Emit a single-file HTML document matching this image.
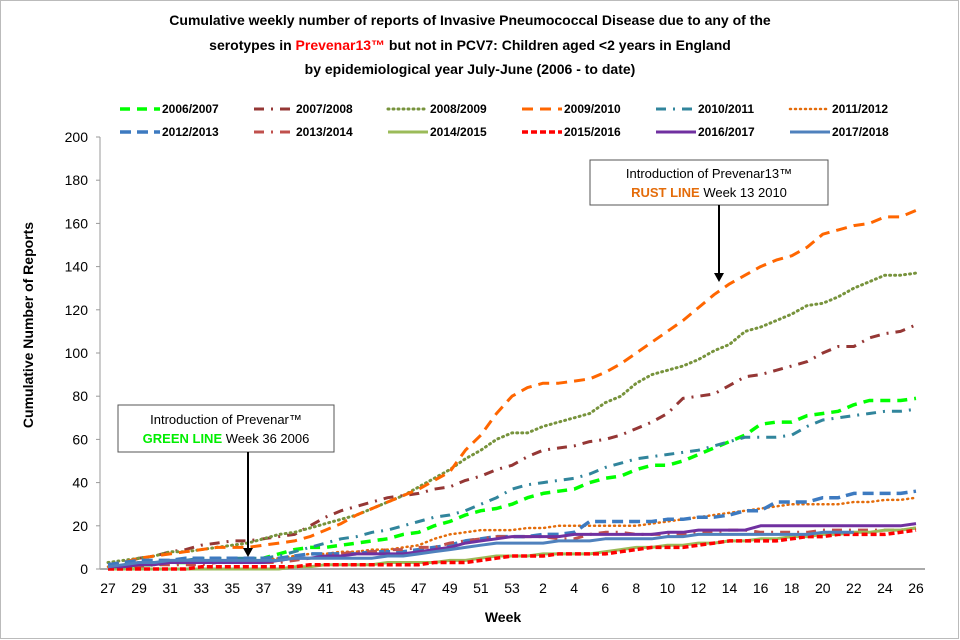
<!DOCTYPE html>
<html><head><meta charset="utf-8"><style>
html,body{margin:0;padding:0;background:#fff;}
svg{display:block;font-family:"Liberation Sans",Arial,sans-serif;}
</style></head><body>
<svg id="chart" width="960" height="640" viewBox="0 0 960 640">
<rect x="0.5" y="0.5" width="958" height="638" fill="#fff" stroke="#bbb"/>
<g font-size="14" font-weight="bold" text-anchor="middle" fill="#000">
<text x="470" y="25">Cumulative weekly number of reports of Invasive Pneumococcal Disease due to any of the</text>
<text x="470" y="50">serotypes in <tspan fill="#ff0000">Prevenar13™</tspan> but not in PCV7: Children aged &lt;2 years in England</text>
<text x="470" y="74">by epidemiological year July-June (2006 - to date)</text>
</g>
<g id="legend" font-size="12" font-weight="bold"></g>
<g id="axes"></g>
<g id="series"></g>
<text x="33" y="325" font-size="14" font-weight="bold" text-anchor="middle" transform="rotate(-90 33 325)">Cumulative Number of Reports</text>
<text x="503" y="622" font-size="14" font-weight="bold" text-anchor="middle">Week</text>
<g>
<rect x="118" y="405" width="216" height="47" fill="#fff" stroke="#555"/>
<text x="226" y="424" font-size="13" text-anchor="middle">Introduction of Prevenar™</text>
<text x="226" y="443" font-size="13" text-anchor="middle"><tspan fill="#00ee00" font-weight="bold">GREEN LINE</tspan> Week 36 2006</text>
<line x1="248" y1="452" x2="248" y2="550" stroke="#000" stroke-width="2"/>
<polygon points="243,548 253,548 248,557" fill="#000"/>
</g>
<g>
<rect x="590" y="160" width="238" height="45" fill="#fff" stroke="#555"/>
<text x="709" y="178" font-size="13" text-anchor="middle">Introduction of Prevenar13™</text>
<text x="709" y="197" font-size="13" text-anchor="middle"><tspan fill="#e46c0a" font-weight="bold">RUST LINE</tspan> Week 13 2010</text>
<line x1="719" y1="205" x2="719" y2="275" stroke="#000" stroke-width="2"/>
<polygon points="714,273 724,273 719,282" fill="#000"/>
</g>
</svg>
<script>
const weeks = [27,28,29,30,31,32,33,34,35,36,37,38,39,40,41,42,43,44,45,46,47,48,49,50,51,52,53,1,2,3,4,5,6,7,8,9,10,11,12,13,14,15,16,17,18,19,20,21,22,23,24,25,26];
const yTicks = [0,20,40,60,80,100,120,140,160,180,200];
const seriesNames = ["2006/2007","2007/2008","2008/2009","2009/2010","2010/2011","2011/2012","2012/2013","2013/2014","2014/2015","2015/2016","2016/2017","2017/2018"];
const s0607 = [1,1,2,2,3,3,4,4,4,5,5,7,9,10,10,11,12,13,14,16,17,20,22,25,27,28,30, 33,35,36,37,40,42,43,46,48,48,50,53,56,59,62,67,68,68,71,72,73,76,78,78,78,79];
const s0708 = [2,3,5,6,8,9,11,12,13,13,14,15,16,20,24,27,29,31,33,34,35,37,38,41,43,46,48, 52,55,56,57,59,60,62,65,68,72,79,80,81,85,89,90,92,94,96,100,103,103,107,109,110,113];
const s0809 = [3,4,5,6,8,8,9,10,11,12,14,16,17,19,21,23,25,28,31,34,38,42,46,51,55,60,63, 63,66,68,70,72,77,80,86,90,92,94,97,101,104,110,112,115,118,122,123,126,130,133,136,136,137];
const s0910 = [2,3,5,6,7,8,9,10,10,10,11,12,13,15,18,21,25,28,31,34,37,41,45,55,62,72,80, 84,86,86,87,88,91,95,100,105,110,115,121,127,132,136,140,143,145,149,155,157,159,160,163,163,166];
const s1011 = [1,2,3,3,4,4,5,5,5,5,5,6,8,10,12,14,15,17,18,20,22,24,25,27,30,33,37, 39,40,41,42,44,47,49,51,52,53,54,55,57,59,61,61,61,62,66,69,70,71,72,73,73,74];
const s1112 = [1,1,2,2,3,3,3,4,4,4,4,5,6,7,7,8,8,9,9,10,11,14,16,17,18,18,18, 19,19,20,20,20,20,20,20,21,22,23,24,25,26,27,28,29,30,30,30,30,31,31,32,32,33];
const s1213 = [2,3,4,4,4,5,5,5,5,5,5,5,6,7,7,7,7,8,8,8,9,10,11,13,14,15,15, 15,16,16,17,22,22,22,22,22,23,23,24,24,25,27,27,31,31,31,33,33,35,35,35,35,36];
const s1314 = [1,1,1,2,2,2,2,3,3,3,3,3,4,5,6,7,8,8,9,9,10,10,12,13,14,15,15, 15,15,14,14,16,17,17,16,16,16,16,17,17,18,18,17,17,17,17,18,18,18,18,18,18,19];
const s1415 = [0,0,0,0,0,0,0,0,0,0,0,0,1,1,2,2,2,2,3,3,3,3,4,4,5,6,6, 6,7,7,7,7,8,9,10,10,11,11,12,12,13,13,14,14,15,15,16,16,17,17,18,18,19];
const s1516 = [0,0,0,0,0,0,1,1,1,1,1,1,1,2,2,2,2,2,2,2,2,3,3,3,4,5,6, 6,6,7,7,7,7,8,9,10,10,10,11,12,13,13,13,13,14,15,15,16,16,16,16,17,18];
const s1617 = [1,1,2,2,3,3,3,3,3,3,3,4,5,5,6,6,7,7,7,7,8,9,10,12,13,14,15, 15,15,15,16,16,16,16,16,16,17,17,18,18,18,18,20,20,20,20,20,20,20,20,20,20,21];
const s1718 = [1,2,3,3,4,4,4,4,4,4,4,4,5,5,5,5,5,5,6,6,7,8,9,10,11,12,12, 12,12,13,13,13,14,14,14,14,15,15,16,16,16,16,16,16,16,16,17,17,17,null,null,null,null];

const NS="http://www.w3.org/2000/svg";
const X0=108, X1=916, Y0=569, Y1=137;
function xS(i){return X0+(X1-X0)*i/(weeks.length-1);}
function yS(v){return Y0-(Y0-Y1)*v/200;}
function mk(tag,attrs,parent){const e=document.createElementNS(NS,tag);for(const k in attrs)e.setAttribute(k,attrs[k]);parent.appendChild(e);return e;}

const styles = [
 {c:"#00ff00",d:"10,7",w:3.5},
 {c:"#953735",d:"10,7,2,7",w:3},
 {c:"#77933c",d:"1,4",w:3,cap:"round"},
 {c:"#ff6600",d:"11,7",w:3},
 {c:"#31859c",d:"10,7,2,7",w:3},
 {c:"#e46c0a",d:"1,4",w:2.5,cap:"round"},
 {c:"#3d7ac0",d:"11,6",w:3.5},
 {c:"#c0504d",d:"10,7,2,7",w:3},
 {c:"#9bbb59",d:"",w:3},
 {c:"#ff0000",d:"6,3",w:3.5},
 {c:"#7030a0",d:"",w:3},
 {c:"#4f81bd",d:"",w:3}
];
const allSeries=[s0607,s0708,s0809,s0910,s1011,s1112,s1213,s1314,s1415,s1516,s1617,s1718];

// axes
const ax=document.getElementById('axes');
const yl=mk('line',{x1:100,y1:Y1,x2:100,y2:Y0,stroke:'#999','stroke-width':1},ax);


const xl=mk('line',{x1:100,y1:Y0,x2:925,y2:Y0,stroke:'#aaa','stroke-width':2},ax);


yTicks.forEach(t=>{
  mk('line',{x1:96,y1:yS(t),x2:100,y2:yS(t),stroke:'#999'},ax);
  const tx=mk('text',{x:88,y:yS(t)+5,'font-size':14,'text-anchor':'end',fill:'#000'},ax);
  tx.textContent=t;
  
  
});
weeks.forEach((w,i)=>{
  if(i%2!==0) return;
  const tx=mk('text',{x:xS(i),y:593,'font-size':14,'text-anchor':'middle',fill:'#000'},ax);
  tx.textContent=w;
  
  
});

// series
const sg=document.getElementById('series');
allSeries.forEach((arr,si)=>{
  const st=styles[si];
  let d='',pen=false;
  arr.forEach((v,i)=>{
    if(v===null){pen=false;return;}
    d+=(pen?'L':'M')+xS(i).toFixed(1)+','+yS(v).toFixed(1);pen=true;
  });
  const p=mk('path',{d:d,fill:'none',stroke:st.c,'stroke-width':st.w,'stroke-dasharray':st.d,'stroke-linecap':st.cap||'butt','stroke-linejoin':'round'},sg);
  
  
});

// legend
const lg=document.getElementById('legend');
seriesNames.forEach((n,si)=>{
  const st=styles[si];
  const col=si%6,row=Math.floor(si/6);
  const x=120+col*134,y=113+row*23;
  const g=mk('g',{},lg);
  
  
  mk('line',{x1:x,y1:y-4,x2:x+40,y2:y-4,stroke:st.c,'stroke-width':st.w,'stroke-dasharray':st.d,'stroke-linecap':st.cap||'butt'},g);
  const t=mk('text',{x:x+42,y:y,'font-size':12,'font-weight':'bold',fill:'#000'},g);
  t.textContent=n;
});
</script>
</body></html>
